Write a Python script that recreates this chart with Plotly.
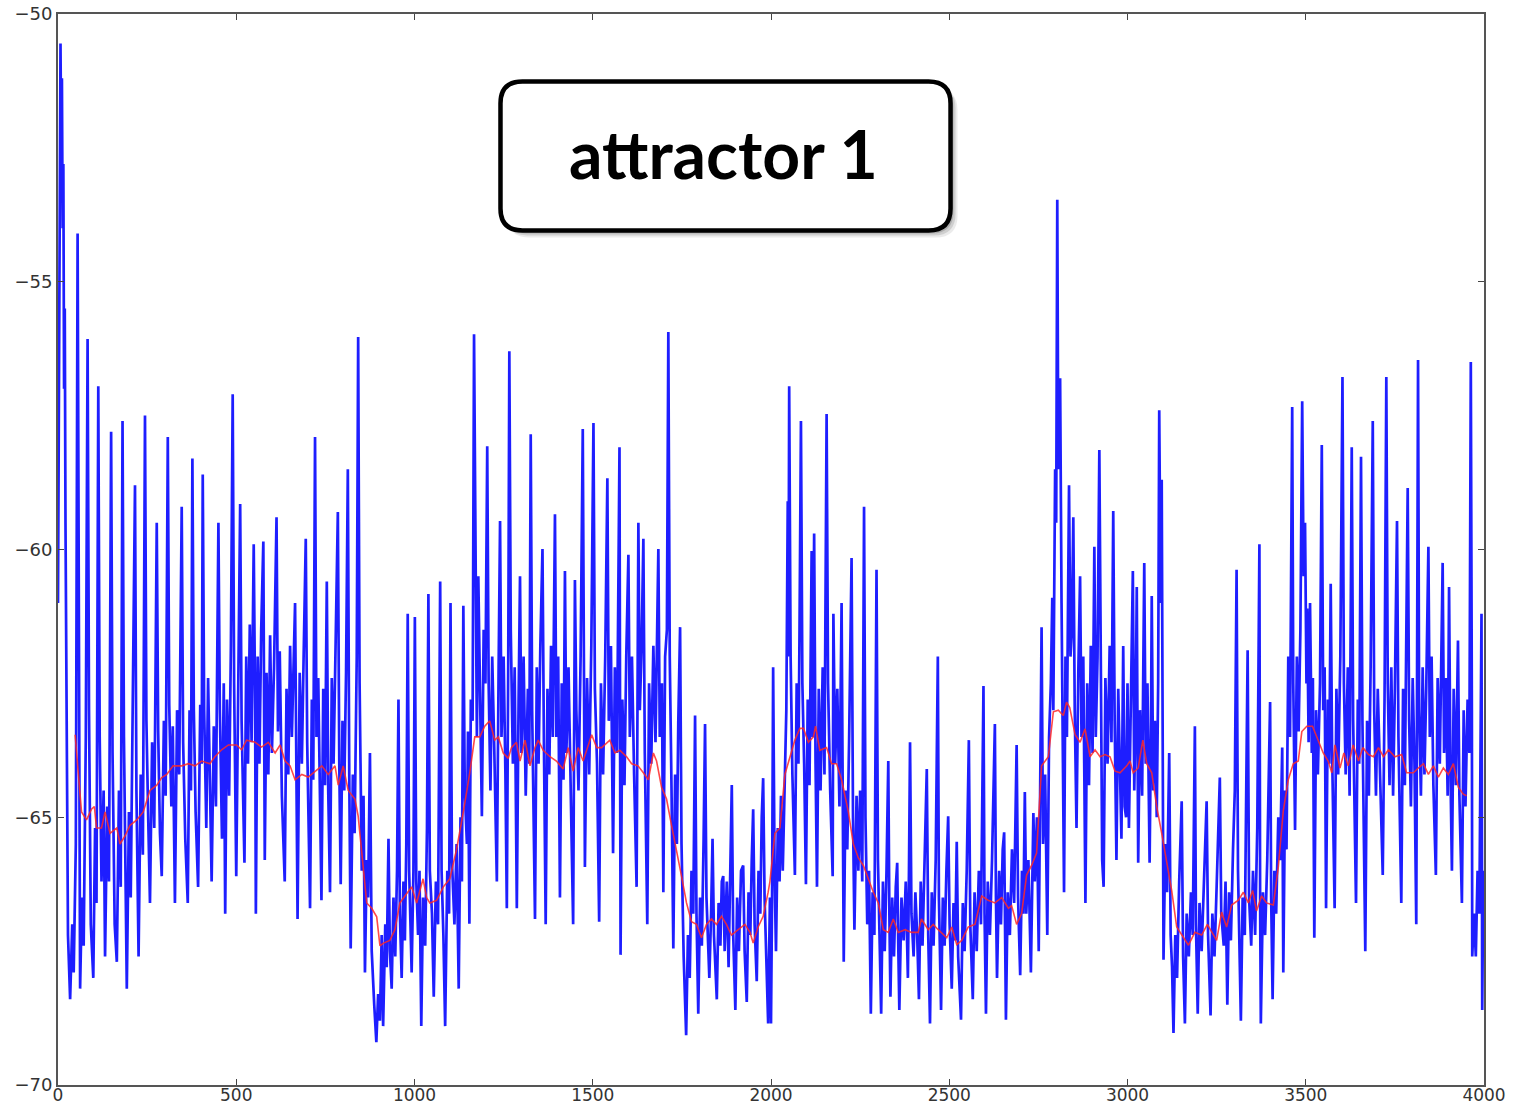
import plotly.graph_objects as go

# Membrane trace (sample index, value), split into four stretches of the run
trace_0_1000 = [
    (0, -61), (3, -55), (5, -51), (7, -50.55), (9, -52.5), (11, -51.2), (13, -54), (15, -52.8),
    (17, -57), (19, -55.5), (21, -59.5), (24, -63.5), (28, -67.2), (34, -68.4), (40, -67.0),
    (44, -67.9), (50, -65.5), (55, -54.1), (58, -62), (62, -68.2), (67, -66.5), (72, -67.4),
    (78, -63.5), (83, -56.07), (87, -63), (92, -67.0), (99, -68.0), (104, -65.2), (108, -66.6),
    (113, -56.95), (117, -63.5), (122, -66.2), (128, -64.5), (132, -67.6), (138, -64.8),
    (143, -66.2), (149, -57.8), (153, -63.8), (159, -67.0), (165, -67.7), (171, -64.5),
    (176, -66.3), (181, -57.6), (185, -63.5), (193, -68.2), (199, -64.9), (204, -66.5),
    (210, -62.5), (216, -58.8), (220, -64.5), (226, -67.6), (232, -64.2), (238, -65.7),
    (244, -57.5), (248, -63.2), (253, -65.0), (258, -66.6), (264, -63.6), (270, -65.2),
    (277, -59.5), (281, -63.4), (286, -65.3), (291, -66.1), (297, -63.2), (302, -64.6),
    (308, -57.9), (312, -62.9), (318, -64.8), (322, -63.3), (328, -66.6), (334, -63.0),
    (340, -64.2), (347, -59.2), (351, -63.6), (357, -65.4), (364, -66.6), (369, -63.0),
    (373, -64.5), (377, -58.3), (381, -63.0), (386, -64.9), (393, -66.3), (399, -62.9),
    (403, -64.0), (406, -58.6), (410, -63.0), (416, -65.2), (421, -62.4), (426, -64.4),
    (431, -66.2), (437, -63.3), (443, -64.8), (450, -59.5), (454, -63.0), (460, -65.4),
    (465, -62.5), (469, -66.8), (474, -62.8), (480, -64.6), (485, -61.8), (490, -57.1),
    (494, -62.5), (500, -66.1), (505, -62.8), (511, -59.15), (515, -63.2), (523, -65.85),
    (528, -62.0), (533, -64.0), (538, -61.4), (543, -63.6), (549, -59.9), (553, -63.0),
    (555, -66.8), (560, -62.0), (565, -64.0), (570, -61.5), (576, -59.85), (580, -65.8),
    (585, -62.3), (590, -64.2), (595, -61.6), (600, -63.8), (606, -62.2), (613, -59.4),
    (617, -63.4), (622, -61.9), (628, -64.6), (636, -66.2), (641, -62.6), (646, -64.2),
    (651, -61.8), (656, -63.5), (665, -61.0), (669, -64.2), (672, -66.9), (678, -62.3),
    (684, -64.0), (689, -62.0), (695, -59.8), (699, -63.6), (707, -66.7), (712, -62.8),
    (716, -64.3), (721, -57.9), (725, -63.5), (730, -62.4), (734, -64.8), (739, -66.55),
    (744, -62.6), (749, -64.4), (754, -60.6), (758, -64.5), (763, -66.4), (768, -62.4),
    (773, -64.0), (779, -62.0), (785, -59.3), (789, -64.0), (793, -66.25), (798, -63.2),
    (803, -64.5), (808, -62.3), (813, -58.5), (817, -64.2), (821, -67.45), (827, -64.2),
    (832, -65.3), (838, -62.0), (842, -56.03), (846, -62.5), (852, -66.0), (857, -64.6),
    (861, -67.9), (866, -65.8), (870, -66.5), (875, -63.8), (880, -67.5), (887, -68.5),
    (893, -69.2), (898, -68.3), (903, -68.8), (908, -67.2), (912, -68.9), (918, -67.0),
    (922, -67.8), (927, -65.4), (931, -67.5), (936, -68.2), (941, -66.5), (946, -67.6),
    (951, -66.0), (955, -62.8), (959, -66.8), (964, -68.0), (969, -66.2), (973, -67.3),
    (977, -65.5), (981, -61.2), (985, -66.0), (992, -67.9), (997, -66.0),
]

trace_1000_2000 = [
    (1001, -61.26), (1005, -66.2), (1010, -67.2), (1014, -66.0), (1019, -68.9), (1024, -66.5),
    (1030, -67.4), (1035, -65.2), (1039, -60.83), (1043, -66.0), (1049, -66.8), (1054, -68.35),
    (1060, -66.2), (1066, -67.0), (1072, -60.6), (1076, -66.0), (1081, -67.2), (1086, -68.9),
    (1092, -66.0), (1097, -66.8), (1101, -61.0), (1105, -65.8), (1112, -67.0), (1118, -65.5),
    (1124, -68.2), (1129, -65.0), (1133, -66.2), (1137, -61.05), (1141, -64.5), (1147, -65.5),
    (1150, -63.4), (1154, -66.99), (1158, -62.8), (1163, -63.2), (1167, -55.98), (1171, -61.0),
    (1175, -63.5), (1179, -60.5), (1184, -63.0), (1189, -64.98), (1194, -61.5), (1199, -62.5),
    (1204, -58.07), (1208, -62.5), (1213, -64.5), (1218, -62.0), (1224, -63.8), (1231, -66.2),
    (1236, -62.2), (1240, -59.47), (1244, -63.5), (1250, -62.0), (1255, -64.2), (1259, -66.7),
    (1263, -62.0), (1266, -56.3), (1270, -61.5), (1276, -64.0), (1281, -62.2), (1287, -66.7),
    (1292, -62.8), (1296, -60.5), (1300, -63.8), (1306, -62.0), (1312, -64.6), (1318, -62.6),
    (1322, -64.0), (1326, -57.85), (1330, -63.0), (1338, -66.9), (1343, -62.2), (1348, -64.0),
    (1353, -61.8), (1359, -59.99), (1363, -63.6), (1368, -67.0), (1373, -62.6), (1378, -64.2),
    (1383, -61.8), (1388, -63.5), (1394, -59.34), (1398, -63.5), (1403, -62.0), (1408, -66.5),
    (1413, -62.5), (1418, -64.3), (1422, -60.4), (1426, -63.8), (1432, -62.2), (1438, -64.6),
    (1445, -67.0), (1450, -60.57), (1454, -63.0), (1460, -64.5), (1466, -62.0), (1472, -57.75),
    (1476, -62.8), (1478, -65.93), (1484, -62.4), (1490, -64.2), (1496, -61.8), (1502, -57.64),
    (1506, -62.6), (1512, -64.0), (1518, -66.95), (1523, -62.5), (1529, -64.2), (1535, -62.0),
    (1541, -58.67), (1545, -63.2), (1551, -61.8), (1557, -65.67), (1562, -62.2), (1568, -63.8),
    (1575, -58.09), (1578, -67.57), (1583, -62.8), (1589, -64.4), (1594, -62.0), (1600, -60.1),
    (1604, -63.5), (1610, -62.0), (1616, -64.2), (1623, -66.3), (1628, -59.5), (1632, -63.0),
    (1637, -61.8), (1642, -59.8), (1646, -63.8), (1653, -67.0), (1658, -62.5), (1664, -64.0),
    (1670, -61.8), (1676, -63.6), (1684, -59.99), (1688, -63.5), (1694, -62.5), (1698, -66.4),
    (1703, -62.0), (1708, -61.5), (1712, -55.94), (1716, -62.0), (1721, -64.5), (1726, -67.45),
    (1731, -64.2), (1736, -65.5), (1740, -63.2), (1745, -61.45), (1749, -65.5), (1755, -67.6),
    (1762, -69.07), (1767, -67.2), (1772, -68.0), (1777, -66.0), (1782, -66.8), (1787, -63.1),
    (1791, -66.8), (1796, -68.67), (1801, -66.5), (1806, -67.4), (1811, -65.4), (1815, -63.26),
    (1819, -66.5), (1823, -67.2), (1827, -68.0), (1832, -66.8), (1836, -65.4), (1840, -67.2),
    (1848, -68.4), (1853, -66.6), (1858, -67.4), (1862, -66.2), (1866, -66.1), (1870, -67.5),
    (1876, -66.2), (1881, -67.8), (1886, -66.0), (1890, -64.4), (1894, -67.2), (1900, -68.6),
    (1905, -66.5), (1910, -67.5), (1916, -66.0), (1922, -65.9), (1926, -67.5), (1932, -68.45),
    (1937, -66.4), (1942, -67.2), (1946, -65.8), (1950, -64.85), (1954, -67.0), (1960, -68.06),
    (1965, -66.0), (1970, -66.8), (1974, -65.0), (1978, -64.27), (1982, -66.5), (1987, -67.5),
    (1992, -68.85), (1997, -66.5),
]

trace_2000_3000 = [
    (2000, -68.85), (2003, -66.5), (2006, -62.2), (2010, -66.0), (2014, -67.5), (2019, -65.2),
    (2024, -66.2), (2028, -64.6), (2033, -66.0), (2038, -64.5), (2043, -63.0), (2047, -59.1),
    (2049, -62.0), (2051, -56.95), (2055, -62.0), (2060, -64.2), (2067, -66.08), (2072, -62.5),
    (2077, -64.0), (2080, -61.5), (2084, -57.6), (2088, -62.5), (2093, -64.0), (2098, -66.25),
    (2103, -62.8), (2108, -64.4), (2114, -60.03), (2117, -63.5), (2121, -59.7), (2125, -64.0),
    (2129, -66.3), (2134, -62.6), (2139, -64.5), (2145, -62.2), (2150, -64.2), (2156, -57.47),
    (2160, -62.5), (2166, -64.5), (2173, -66.1), (2175, -61.2), (2180, -64.0), (2186, -62.6),
    (2192, -64.8), (2198, -61.0), (2201, -65.0), (2204, -67.7), (2209, -64.5), (2214, -65.6),
    (2219, -63.6), (2226, -60.16), (2230, -65.0), (2234, -67.1), (2240, -64.6), (2245, -66.0),
    (2250, -64.5), (2256, -66.2), (2261, -59.2), (2265, -65.0), (2270, -67.0), (2275, -66.0),
    (2280, -68.67), (2285, -66.4), (2290, -67.2), (2296, -60.38), (2300, -65.8), (2305, -67.2),
    (2309, -68.67), (2314, -66.2), (2319, -67.5), (2324, -66.0), (2329, -63.95), (2332, -66.8),
    (2335, -68.35), (2340, -66.5), (2345, -67.6), (2350, -66.3), (2354, -65.85), (2357, -67.4),
    (2360, -68.6), (2366, -66.5), (2372, -67.3), (2378, -66.2), (2384, -68.0), (2387, -66.0),
    (2390, -63.6), (2394, -66.8), (2400, -67.6), (2405, -66.4), (2410, -67.2), (2415, -68.4),
    (2420, -66.2), (2425, -67.4), (2431, -65.8), (2437, -64.1), (2441, -67.2), (2446, -68.85),
    (2451, -66.4), (2456, -67.4), (2462, -65.8), (2468, -62.0), (2471, -66.5), (2477, -68.6),
    (2482, -66.5), (2487, -67.4), (2492, -66.0), (2497, -64.98), (2501, -67.0), (2507, -68.2),
    (2512, -66.6), (2517, -67.3), (2521, -65.46), (2525, -67.6), (2533, -68.78), (2538, -66.6),
    (2543, -67.5), (2549, -66.0), (2555, -63.56), (2559, -67.0), (2566, -68.4), (2571, -66.4),
    (2577, -67.5), (2583, -66.0), (2589, -67.0), (2596, -62.55), (2599, -66.8), (2603, -68.67),
    (2608, -66.2), (2614, -67.2), (2620, -65.8), (2628, -63.26), (2631, -66.5), (2634, -68.0),
    (2640, -66.0), (2645, -67.0), (2650, -65.6), (2654, -65.28), (2657, -67.4), (2659, -68.78),
    (2664, -66.4), (2670, -67.2), (2676, -65.6), (2682, -66.6), (2689, -63.65), (2693, -66.5),
    (2699, -67.95), (2704, -66.0), (2708, -66.8), (2712, -64.53), (2716, -66.8), (2722, -65.8),
    (2729, -67.9), (2733, -65.5), (2736, -64.92), (2740, -66.2), (2746, -65.0), (2751, -67.5),
    (2755, -64.5), (2759, -61.45), (2763, -65.5), (2769, -64.2), (2775, -67.2), (2780, -63.5),
    (2785, -62.5), (2789, -60.9), (2792, -63.0), (2795, -60.0), (2797, -58.5), (2800, -59.5),
    (2803, -53.47), (2806, -58.5), (2809, -57.5), (2811, -56.8), (2815, -61.0), (2819, -63.5),
    (2822, -66.4), (2826, -62.0), (2830, -63.5), (2836, -58.8), (2840, -62.0), (2844, -61.5),
    (2848, -59.4), (2852, -63.0), (2857, -65.2), (2862, -62.3), (2867, -60.5), (2871, -63.5),
    (2876, -62.0), (2882, -66.6), (2887, -62.5), (2892, -64.4), (2897, -61.8), (2902, -63.8),
    (2907, -59.95), (2911, -63.5), (2916, -62.0), (2921, -58.14), (2925, -63.0), (2929, -65.8),
    (2933, -66.3), (2938, -62.4), (2944, -64.0), (2950, -61.8), (2955, -63.6), (2960, -59.28),
    (2964, -63.2), (2969, -65.8), (2974, -62.6), (2979, -64.2), (2983, -65.4), (2988, -61.8),
    (2992, -64.8),
]

trace_3000_4000 = [
    (2996, -65.0), (3000, -62.5), (3004, -65.2), (3009, -63.0), (3015, -60.4), (3019, -64.5),
    (3023, -63.0), (3026, -60.7), (3030, -65.85), (3035, -63.0), (3041, -64.6), (3047, -60.25),
    (3051, -64.0), (3056, -62.5), (3062, -65.85), (3066, -63.2), (3068, -60.87), (3072, -64.5),
    (3077, -63.2), (3082, -65.0), (3086, -62.5), (3089, -57.4), (3093, -61.0), (3096, -58.7),
    (3099, -64.5), (3101, -67.66), (3106, -65.5), (3111, -66.4), (3117, -63.8), (3121, -67.2),
    (3125, -67.8), (3129, -69.03), (3134, -67.2), (3139, -68.0), (3145, -66.2), (3152, -64.7),
    (3156, -67.6), (3161, -68.85), (3166, -66.8), (3172, -67.6), (3178, -66.4), (3183, -67.2),
    (3189, -63.3), (3192, -67.0), (3197, -68.67), (3202, -66.6), (3208, -67.5), (3214, -66.2),
    (3222, -64.7), (3226, -67.2), (3233, -68.7), (3238, -66.8), (3244, -67.6), (3250, -66.3),
    (3259, -64.26), (3263, -66.8), (3270, -67.4), (3275, -66.2), (3280, -68.5), (3285, -66.4),
    (3290, -67.3), (3296, -65.6), (3301, -64.5), (3306, -60.38), (3310, -66.0), (3318, -68.8),
    (3323, -66.5), (3329, -67.2), (3333, -65.0), (3337, -61.88), (3341, -66.5), (3347, -67.4),
    (3352, -66.0), (3358, -67.2), (3364, -65.2), (3370, -59.9), (3372, -66.6), (3374, -68.85),
    (3380, -66.4), (3386, -67.2), (3392, -65.8), (3400, -62.85), (3403, -66.5), (3407, -68.4),
    (3412, -66.0), (3417, -66.8), (3423, -65.0), (3428, -65.8), (3434, -63.7), (3437, -67.9),
    (3442, -64.5), (3446, -65.6), (3451, -62.0), (3456, -63.5), (3462, -57.34), (3465, -62.5),
    (3470, -65.24), (3475, -62.0), (3480, -63.4), (3485, -61.5), (3490, -57.23), (3494, -60.5),
    (3498, -59.5), (3502, -62.5), (3504, -61.1), (3508, -63.6), (3512, -61.0), (3517, -63.8),
    (3520, -62.4), (3524, -67.25), (3529, -63.0), (3534, -64.2), (3540, -62.5), (3545, -58.05),
    (3549, -63.0), (3553, -62.2), (3557, -66.7), (3562, -62.8), (3566, -64.0), (3570, -60.64),
    (3574, -63.8), (3581, -66.7), (3586, -62.6), (3591, -64.2), (3597, -62.0), (3603, -56.78),
    (3607, -62.5), (3612, -64.2), (3618, -62.2), (3623, -64.6), (3629, -58.09), (3633, -63.2),
    (3641, -66.6), (3646, -62.8), (3650, -64.0), (3655, -58.27), (3659, -63.2), (3667, -67.5),
    (3672, -63.2), (3677, -64.6), (3682, -62.2), (3688, -57.6), (3692, -63.0), (3697, -64.6),
    (3702, -62.6), (3708, -64.0), (3716, -66.08), (3721, -62.8), (3726, -56.78), (3730, -62.5),
    (3735, -64.4), (3740, -62.2), (3745, -64.6), (3750, -62.6), (3756, -59.47), (3760, -63.5),
    (3768, -66.6), (3773, -62.6), (3778, -64.4), (3786, -58.85), (3790, -63.2), (3795, -64.8),
    (3800, -62.4), (3805, -64.0), (3810, -67.0), (3815, -56.46), (3818, -63.0), (3823, -64.6),
    (3828, -62.2), (3833, -64.2), (3838, -62.6), (3844, -59.95), (3848, -63.5), (3853, -62.0),
    (3858, -64.4), (3865, -66.08), (3870, -62.4), (3876, -64.0), (3880, -62.2), (3884, -60.25),
    (3888, -63.8), (3893, -62.4), (3898, -64.6), (3902, -60.7), (3906, -64.2), (3910, -66.0),
    (3915, -62.6), (3921, -64.4), (3927, -61.7), (3931, -64.6), (3938, -66.6), (3943, -63.0),
    (3948, -64.8), (3954, -62.8), (3959, -63.8), (3963, -56.5), (3966, -63.0), (3967, -67.6),
    (3972, -66.8), (3977, -67.6), (3982, -66.0), (3987, -66.8), (3993, -61.2), (3995, -68.6),
    (3998, -66.0),
]

# Running mean of the trace
running_mean = [
    (48, -63.46), (57, -64.2), (66, -64.9), (80, -65.05), (94, -64.85), (102, -64.8), (108, -65.2),
    (122, -65.2), (132, -64.9), (146, -65.3), (165, -65.2), (174, -65.5), (188, -65.35),
    (202, -65.15), (221, -65.05), (239, -64.9), (258, -64.5), (277, -64.4), (291, -64.26),
    (305, -64.2), (323, -64.04), (347, -64.04), (366, -64.0), (384, -64.04), (403, -63.95),
    (426, -64.0), (440, -63.87), (459, -63.74), (478, -63.65), (501, -63.65), (515, -63.74),
    (529, -63.56), (553, -63.6), (571, -63.69), (590, -63.6), (609, -63.8), (623, -63.65),
    (637, -63.95), (651, -64.04), (665, -64.3), (684, -64.2), (702, -64.25), (721, -64.15),
    (740, -64.04), (758, -64.2), (777, -64.04), (786, -64.4), (800, -64.04), (814, -64.5),
    (833, -64.66), (842, -64.98), (852, -65.67), (866, -66.6), (880, -66.7), (894, -66.86),
    (903, -67.4), (913, -67.35), (931, -67.3), (945, -67.1), (959, -66.6), (973, -66.47),
    (992, -66.3), (1006, -66.6), (1024, -66.15), (1034, -66.5), (1043, -66.6), (1062, -66.55),
    (1081, -66.3), (1099, -66.15), (1118, -65.6), (1137, -64.9), (1155, -64.17), (1169, -63.5),
    (1183, -63.5), (1197, -63.3), (1211, -63.2), (1225, -63.56), (1235, -63.5), (1249, -63.8),
    (1263, -63.9), (1272, -63.7), (1286, -63.6), (1296, -63.95), (1310, -63.56), (1324, -64.04),
    (1338, -63.7), (1347, -63.56), (1361, -63.75), (1380, -63.87), (1398, -63.95), (1417, -64.1),
    (1431, -63.7), (1445, -64.14), (1459, -63.7), (1473, -63.95), (1497, -63.46), (1511, -63.7),
    (1525, -63.7), (1548, -63.56), (1562, -63.8), (1576, -63.75), (1595, -63.87), (1609, -64.0),
    (1627, -64.04), (1642, -64.17), (1656, -64.3), (1670, -63.8), (1679, -63.95), (1693, -64.44),
    (1707, -64.66), (1721, -65.15), (1735, -65.6), (1749, -66.1), (1763, -66.6), (1777, -66.95),
    (1791, -67.0), (1805, -67.25), (1819, -67.0), (1833, -66.9), (1847, -67.0), (1861, -66.85),
    (1875, -67.0), (1889, -67.2), (1908, -67.1), (1927, -67.0), (1941, -67.15), (1950, -67.35),
    (1964, -67.05), (1978, -66.85), (1992, -66.4), (1997, -66.2), (2011, -65.3), (2025, -65.2),
    (2039, -64.2), (2053, -63.9), (2067, -63.56), (2081, -63.34), (2091, -63.34), (2105, -63.6),
    (2119, -63.5), (2125, -63.3), (2137, -63.75), (2156, -63.7), (2170, -64.0), (2184, -64.0),
    (2198, -64.3), (2217, -64.9), (2231, -65.5), (2245, -65.76), (2259, -65.9), (2273, -66.15),
    (2287, -66.4), (2301, -66.6), (2315, -67.1), (2329, -67.15), (2343, -66.9), (2357, -67.15),
    (2376, -67.1), (2394, -67.15), (2413, -67.15), (2422, -66.9), (2441, -67.1), (2455, -67.0),
    (2469, -67.1), (2493, -67.25), (2507, -67.05), (2521, -67.38), (2535, -67.3), (2553, -67.05),
    (2572, -67.0), (2591, -66.47), (2609, -66.55), (2628, -66.6), (2647, -66.5), (2666, -66.7),
    (2675, -66.65), (2689, -67.0), (2703, -66.8), (2717, -66.08), (2731, -65.9), (2745, -65.67),
    (2759, -64.04), (2778, -63.87), (2792, -63.03), (2806, -63.0), (2820, -63.1), (2829, -62.85),
    (2838, -62.95), (2853, -63.46), (2867, -63.6), (2881, -63.35), (2895, -63.87), (2909, -63.74),
    (2923, -63.87), (2937, -63.83), (2951, -63.87), (2965, -64.14), (2979, -64.17), (2998, -64.04),
    (3007, -63.95), (3016, -64.17), (3030, -64.08), (3043, -63.56), (3054, -64.0), (3068, -64.17),
    (3082, -64.8), (3096, -65.3), (3110, -65.85), (3124, -66.37), (3138, -67.05), (3152, -67.2),
    (3171, -67.39), (3189, -67.15), (3208, -67.2), (3224, -67.0), (3236, -67.15), (3250, -67.3),
    (3264, -66.77), (3278, -67.05), (3292, -66.64), (3311, -66.55), (3325, -66.4), (3339, -66.6),
    (3351, -66.37), (3362, -66.75), (3376, -66.47), (3390, -66.6), (3409, -66.64), (3423, -65.93),
    (3437, -64.88), (3451, -64.3), (3465, -64.0), (3479, -63.95), (3489, -63.4), (3503, -63.3),
    (3519, -63.3), (3535, -63.56), (3549, -63.8), (3563, -63.95), (3573, -64.17), (3582, -63.65),
    (3596, -64.08), (3607, -63.8), (3619, -64.04), (3633, -63.65), (3648, -63.95), (3660, -63.7),
    (3676, -63.83), (3690, -63.87), (3704, -63.7), (3718, -63.87), (3732, -63.74), (3750, -63.87),
    (3769, -63.83), (3783, -64.17), (3802, -64.17), (3816, -64.08), (3830, -64.0), (3844, -64.2),
    (3858, -64.04), (3872, -64.25), (3886, -64.08), (3900, -64.2), (3914, -64.0), (3928, -64.44),
    (3942, -64.57), (3951, -64.6),
]

x_ticks = [0, 500, 1000, 1500, 2000, 2500, 3000, 3500, 4000]
y_ticks = [-70, -65, -60, -55, -50]
label_text = "attractor 1"

trace = trace_0_1000 + trace_1000_2000 + trace_2000_3000 + trace_3000_4000
tx = [p[0] for p in trace]
ty = [p[1] for p in trace]
mx = [p[0] for p in running_mean]
my = [p[1] for p in running_mean]

fig = go.Figure()
fig.add_trace(go.Scatter(x=tx, y=ty, mode="lines",
                         line=dict(color="rgb(30,30,255)", width=2.7), hoverinfo="skip"))
fig.add_trace(go.Scatter(x=mx, y=my, mode="lines",
                         line=dict(color="rgba(255,40,40,0.85)", width=1.6), hoverinfo="skip"))


def rounded_box(l, r, b, t, rx, ry):
    return (f"M {l+rx},{b} L {r-rx},{b} Q {r},{b} {r},{b+ry} L {r},{t-ry} "
            f"Q {r},{t} {r-rx},{t} L {l+rx},{t} Q {l},{t} {l},{t-ry} "
            f"L {l},{b+ry} Q {l},{b} {l+rx},{b} Z")


W_PLOT, H_PLOT = 1426.0, 1071.0
box_l, box_r, box_t, box_b = 0.3103, 0.6259, 0.9370, 0.7979
rx, ry = 22 / W_PLOT, 22 / H_PLOT

shapes = []
# soft drop shadow
for k, alpha in [(7, 0.10), (5, 0.16), (3, 0.22)]:
    dx, dy = k / W_PLOT, k / H_PLOT
    shapes.append(dict(type="path", xref="paper", yref="paper",
                       path=rounded_box(box_l + dx, box_r + dx, box_b - dy, box_t - dy, rx, ry),
                       fillcolor=f"rgba(60,60,60,{alpha})", line=dict(width=0), layer="above"))
shapes.append(dict(type="path", xref="paper", yref="paper",
                   path=rounded_box(box_l, box_r, box_b, box_t, rx, ry),
                   fillcolor="white", line=dict(color="black", width=4.5), layer="above"))

axis_font = dict(family="DejaVu Sans", size=18, color="#333333")
fig.update_layout(
    width=1513, height=1108,
    margin=dict(l=58, r=29, t=14, b=23, pad=0, autoexpand=False),
    paper_bgcolor="white", plot_bgcolor="white",
    showlegend=False,
    shapes=shapes,
    annotations=[dict(text=label_text, xref="paper", yref="paper", x=0.467, y=0.870,
                      xanchor="center", yanchor="middle", showarrow=False,
                      font=dict(family="Lato, Liberation Sans, sans-serif",
                                size=66, color="black", weight="bold"))],
)
fig.update_xaxes(range=[0, 4000], tickvals=x_ticks, ticks="inside", ticklen=6, tickwidth=1.2,
                 tickcolor="#444", showline=True, linecolor="#555", linewidth=1.8,
                 mirror="allticks", showgrid=False, zeroline=False,
                 tickfont=dict(family="DejaVu Sans", size=17, color="#333333"),
                 ticklabelstandoff=-6, automargin=False)
fig.update_yaxes(range=[-70, -50], tickvals=y_ticks, ticks="inside", ticklen=6, tickwidth=1.2,
                 tickcolor="#444", showline=True, linecolor="#555", linewidth=1.8,
                 mirror="allticks", showgrid=False, zeroline=False, tickfont=axis_font,
                 automargin=False)

fig.write_html("out.html")
